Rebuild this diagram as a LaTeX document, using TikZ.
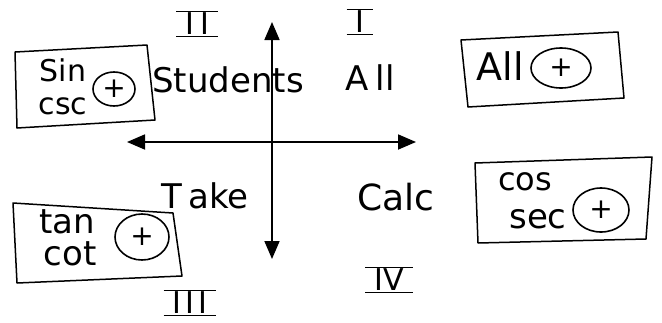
\documentclass[tikz,border=0pt]{standalone}
\usepackage{fontspec}
\newfontfamily\hand{DejaVu Sans}
\usetikzlibrary{arrows.meta,shapes.geometric}
\newcommand\rnum[1]{\underline{$\overline{\hbox{\kern9pt #1\kern9pt}}$}}
\tikzset{
  txt/.style={inner sep=0pt, font=\hand\fontsize{#1}{#1}\selectfont},
  frame/.style={draw, line width=1.5pt, line join=round},
  plus/.style={ellipse, draw, line width=1.6pt, inner sep=0pt, font=\hand\fontsize{28}{28}\selectfont},
  axis/.style={line width=1.8pt, {Triangle[length=18pt,width=15pt]}-{Triangle[length=18pt,width=15pt]}},
}
\begin{document}
\begin{tikzpicture}[x=1pt,y=-1pt]
\useasboundingbox (0,0) rectangle (662,322);
% axes
\coordinate (vt) at (272,22);
\coordinate (vb) at (272,259);
\coordinate (hl) at (127,142);
\coordinate (hr) at (416,142);
\draw[axis] (vt) -- (vb);
\draw[axis] (hl) -- (hr);
% quadrant numerals
\node[txt=30] (q2) at (197,24) {\rnum{I\kern6pt I}};
\node[txt=30] (q1) at (360,22) {\rnum{I}};
\node[txt=30] (q3) at (190,303) {\rnum{I\kern4pt I\kern4pt I}};
\node[txt=30] (q4) at (389,280) {\rnum{IV}};
% mnemonic words
\node[txt=34] (students) at (228,80) {Students};
\node[txt=34] (all) at (370,78) {A\kern7pt ll};
\node[txt=34] (take) at (205,196) {T\kern6pt ake};
\node[txt=36] (calc) at (396,197) {Calc};
% quadrant II box
\draw[frame] (15,52) -- (147,45) -- (155,120) -- (17,128) -- cycle;
\node[txt=30] (sin) at (63,70) {Sin};
\node[txt=30] (csc) at (63,106) {csc};
\node[plus, minimum width=42pt, minimum height=34pt] (p2) at (114,89) {+};
% quadrant I box
\draw[frame] (461,40) -- (618,32) -- (624,98) -- (468,107) -- cycle;
\node[txt=38] (allb) at (500,66) {All};
\node[plus, minimum width=60pt, minimum height=40pt] (p1) at (561,68) {+};
% quadrant III box
\draw[frame] (13,203) -- (173,213) -- (182,276) -- (17,283) -- cycle;
\node[txt=34] (tan) at (67,222) {tan};
\node[txt=34] (cot) at (70,254) {cot};
\node[plus, minimum width=54pt, minimum height=46pt] (p3) at (142,237) {+};
% quadrant IV box
\draw[frame] (475,163) -- (652,157) -- (646,239) -- (478,243) -- cycle;
\node[txt=32] (cos) at (525,182) {cos};
\node[txt=34] (sec) at (538,219) {sec};
\node[plus, minimum width=56pt, minimum height=44pt] (p4) at (601,210) {+};
\end{tikzpicture}
\end{document}
